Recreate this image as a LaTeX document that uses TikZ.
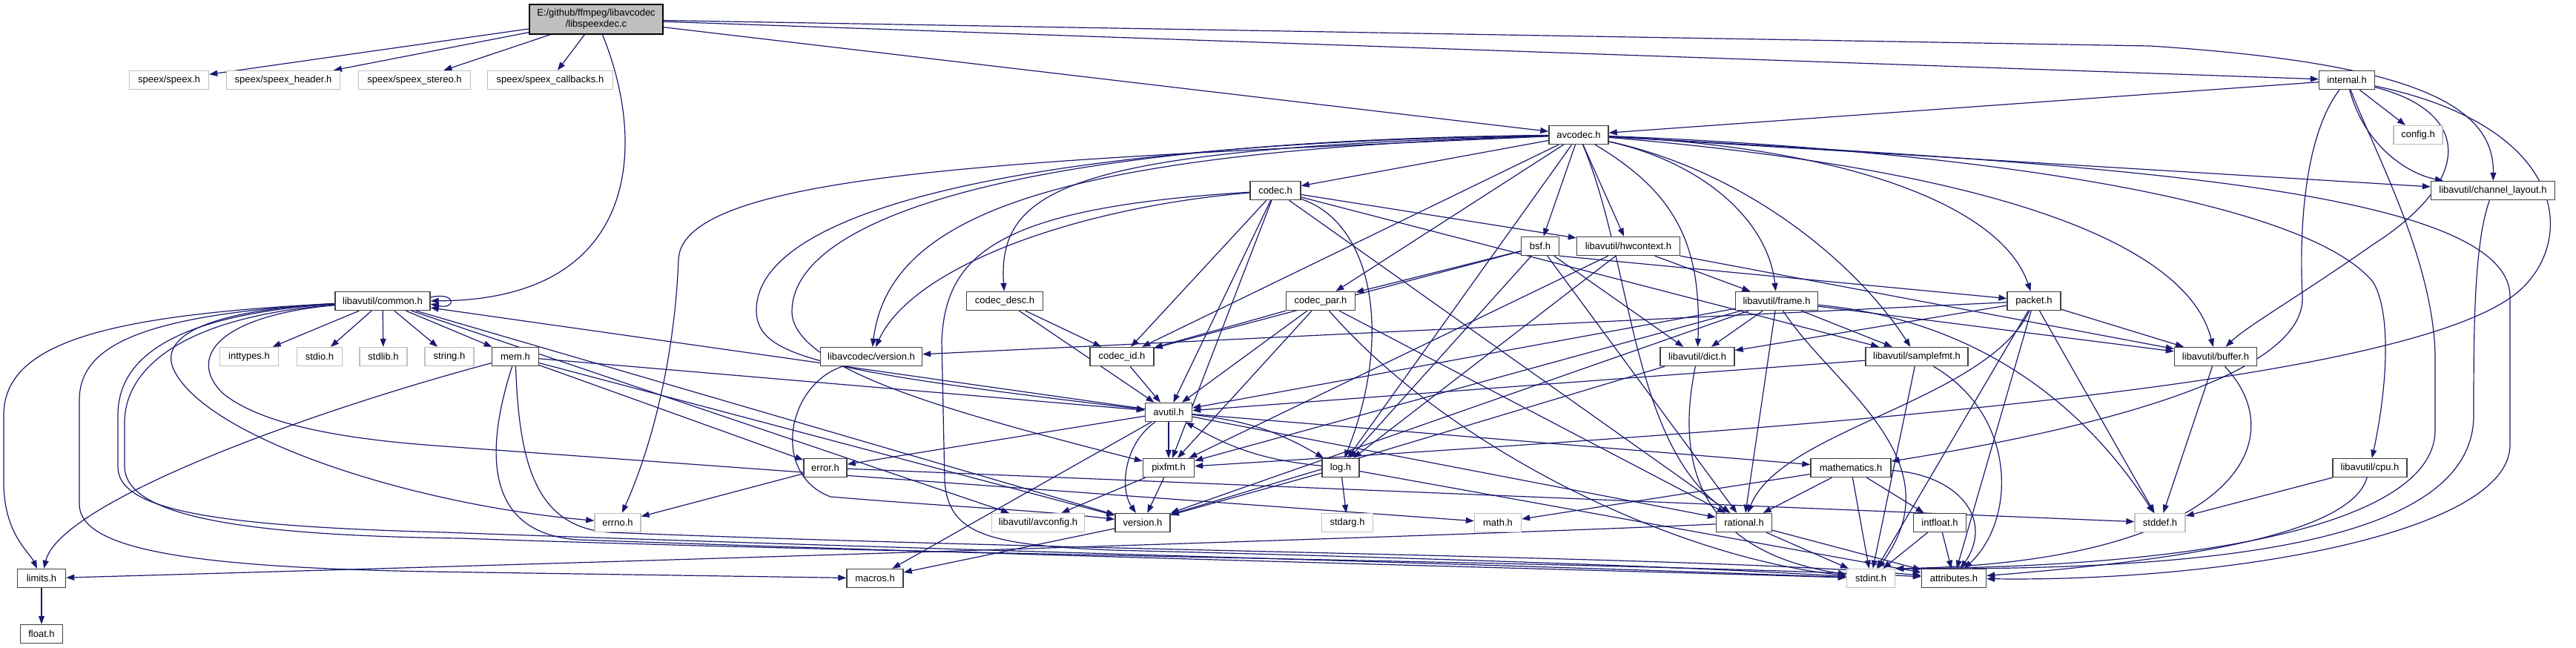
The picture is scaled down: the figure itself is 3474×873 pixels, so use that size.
\documentclass[tikz,border=0pt]{standalone}
\usepackage{fontspec}
\setmainfont{Liberation Sans}
\usetikzlibrary{arrows.meta}
\pgfdeclarelayer{bg}
\pgfdeclarelayer{edges}
\pgfsetlayers{bg,edges,main}
\definecolor{edgec}{HTML}{191970}
\definecolor{nodeb}{HTML}{404040}
\definecolor{extb}{HTML}{BFBFBF}
\definecolor{mainf}{HTML}{BFBFBF}
\tikzset{
  box/.style={draw=nodeb, fill=white, line width=1.4pt, minimum height=25pt, inner sep=1pt,
    font=\fontsize{13pt}{15pt}\selectfont},
  ext/.style={box, draw=extb},
  e/.style={draw=edgec, line width=1.2pt, -{Triangle[length=11pt,width=8pt]}}
}
\begin{document}
\begin{tikzpicture}[x=1pt,y=-1pt]
\begin{pgfonlayer}{bg}
\fill[white] (0,0) rectangle (3474,873);
\end{pgfonlayer}
\useasboundingbox (0,0) rectangle (3474,873);
% ---------- nodes ----------
\node[box, fill=mainf, draw=black, minimum width=180pt, minimum height=40pt, align=center] (m) at (804,26) {E:/github/ffmpeg/libavcodec\\/libspeexdec.c};
\node[ext, minimum width=107pt] (spx) at (228,108) {speex/speex.h};
\node[ext, minimum width=153pt] (spxh) at (382,108) {speex/speex\_header.h};
\node[ext, minimum width=151pt] (spxs) at (559,108) {speex/speex\_stereo.h};
\node[ext, minimum width=169pt] (spxc) at (742,108) {speex/speex\_callbacks.h};
\node[box, minimum width=75pt] (inl) at (3165,108) {internal.h};
\node[box, minimum width=80pt] (avc) at (2129,182) {avcodec.h};
\node[ext, minimum width=66pt] (cfg) at (3261,182) {config.h};
\node[box, minimum width=68pt] (cdc) at (1720,257) {codec.h};
\node[box, minimum width=167pt] (chl) at (3362,257) {libavutil/channel\_layout.h};
\node[box, minimum width=51pt] (bsf) at (2077,332) {bsf.h};
\node[box, minimum width=139pt] (hw) at (2196,332) {libavutil/hwcontext.h};
\node[box, minimum width=128pt] (cm) at (516,406) {libavutil/common.h};
\node[box, minimum width=103pt] (cds) at (1355,406) {codec\_desc.h};
\node[box, minimum width=93pt] (cp) at (1781,406) {codec\_par.h};
\node[box, minimum width=111pt] (fr) at (2396,406) {libavutil/frame.h};
\node[box, minimum width=72pt] (pk) at (2743,406) {packet.h};
\node[ext, minimum width=79pt] (inty) at (336,481) {inttypes.h};
\node[ext, minimum width=61pt] (stdio) at (431,481) {stdio.h};
\node[ext, minimum width=64pt] (stdlib) at (517,481) {stdlib.h};
\node[ext, minimum width=66pt] (str) at (606,481) {string.h};
\node[box, minimum width=63pt] (mem) at (695,481) {mem.h};
\node[box, minimum width=137pt] (lv) at (1175,481) {libavcodec/version.h};
\node[box, minimum width=86pt] (ci) at (1513,481) {codec\_id.h};
\node[box, minimum width=100pt] (dict) at (2289,481) {libavutil/dict.h};
\node[box, minimum width=138pt] (sf) at (2585,481) {libavutil/samplefmt.h};
\node[box, minimum width=111pt] (bf) at (2988,481) {libavutil/buffer.h};
\node[box, minimum width=63pt] (au) at (1576,556) {avutil.h};
\node[box, minimum width=69pt] (px) at (1576,631) {pixfmt.h};
\node[box, minimum width=50pt] (log) at (1808,631) {log.h};
\node[box, minimum width=58pt] (err) at (1113,631) {error.h};
\node[box, minimum width=108pt] (mt) at (2496,631) {mathematics.h};
\node[box, minimum width=100pt] (cpu) at (3196,631) {libavutil/cpu.h};
\node[ext, minimum width=62pt] (errno) at (833,705) {errno.h};
\node[ext, minimum width=125pt] (acfg) at (1400,705) {libavutil/avconfig.h};
\node[box, minimum width=74pt] (ver) at (1541,705) {version.h};
\node[ext, minimum width=69pt] (stdarg) at (1817,705) {stdarg.h};
\node[ext, minimum width=63pt] (math) at (2020,705) {math.h};
\node[box, minimum width=75pt] (ra) at (2352,705) {rational.h};
\node[box, minimum width=71pt] (if) at (2616,705) {intfloat.h};
\node[ext, minimum width=68pt] (sdef) at (2913,705) {stddef.h};
\node[box, minimum width=65pt] (lim) at (56,780) {limits.h};
\node[box, minimum width=76pt] (mac) at (1180,780) {macros.h};
\node[ext, minimum width=65pt] (si) at (2523,780) {stdint.h};
\node[box, minimum width=87pt] (attr) at (2635,780) {attributes.h};
\node[box, minimum width=57pt] (flt) at (56,855) {float.h};
\begin{pgfonlayer}{edges}
% ---------- edges: main ----------
\draw[e] (m) -- (spx);
\draw[e] (m) -- (spxh);
\draw[e] (m) -- (spxs);
\draw[e] (m) -- (spxc);
\draw[e] (m) .. controls (875,200) and (860,405) .. (cm);
\draw[e] (m) -- (avc);
\draw[e] (m) -- (inl);
\draw[e] (m) -- (2900,62) .. controls (3250,85) and (3364,140) .. (chl);
% ---------- common.h ----------
\draw[e] ([yshift=5pt]cm.east) .. controls +(35,-8) and +(35,8) .. ([yshift=-4pt]cm.east);
\draw[e] (cm) -- (inty);
\draw[e] (cm) -- (stdio);
\draw[e] (cm) -- (stdlib);
\draw[e] (cm) -- (str);
\draw[e] (cm) -- (mem);
\draw[e] (cm) .. controls (150,425) and (5,460) .. (5,560) -- (5,650) .. controls (5,720) and (40,745) .. (lim);
\draw[e] (cm) .. controls (260,420) and (215,460) .. (235,500) .. controls (280,590) and (550,680) .. (errno);
\draw[e] (cm) .. controls (300,425) and (250,480) .. (300,530) .. controls (360,580) and (500,595) .. (600,602) -- (math);
\draw[e] (cm) .. controls (180,425) and (107,470) .. (107,540) -- (107,680) .. controls (107,740) and (250,765) .. (580,771) -- (mac);
\draw[e] (cm) .. controls (220,425) and (159,490) .. (159,560) -- (159,630) .. controls (159,690) and (300,710) .. (600,718) .. controls (1200,740) and (2000,760) .. (si);
\draw[e] (cm) .. controls (240,428) and (168,500) .. (168,570) -- (168,630) .. controls (170,695) and (320,722) .. (620,726) .. controls (1300,750) and (2200,758) .. (attr);
\draw[e] (cm) -- (ver);
\draw[e] (cm) -- (acfg);
% ---------- avcodec.h ----------
\draw[e] (avc) .. controls (1400,215) and (920,230) .. (915,350) .. controls (910,480) and (880,600) .. (errno);
\draw[e] (avc) .. controls (2350,230) and (2500,350) .. (sf);
\draw[e] (avc) .. controls (2800,220) and (3385,250) .. (3385,400) -- (3385,600) .. controls (3385,720) and (3000,785) .. (attr);
\draw[e] (avc) .. controls (1300,195) and (1018,300) .. (1020,420) .. controls (1022,480) and (1100,500) .. (au);
\draw[e] (avc) .. controls (2700,230) and (2950,330) .. (bf);
\draw[e] (avc) .. controls (2600,200) and (3100,260) .. (3200,380) .. controls (3225,420) and (3220,520) .. (cpu);
\draw[e] (avc) -- (chl);
\draw[e] (avc) .. controls (2260,260) and (2295,330) .. (dict);
\draw[e] (avc) .. controls (2300,220) and (2385,300) .. (fr);
\draw[e] (avc) -- (hw);
\draw[e] (avc) -- (log);
\draw[e] (avc) .. controls (1350,190) and (1068,300) .. (1068,420) .. controls (1068,500) and (1300,560) .. (px);
\draw[e] (avc) .. controls (2200,350) and (2200,600) .. (ra);
\draw[e] (avc) -- (bsf);
\draw[e] (avc) -- (cdc);
\draw[e] (avc) .. controls (1450,200) and (1345,250) .. (cds);
\draw[e] (avc) -- (cp);
\draw[e] (avc) -- (ci);
\draw[e] (avc) .. controls (2500,200) and (2700,280) .. (pk);
\draw[e] (avc) .. controls (1450,205) and (1200,280) .. (lv);
% ---------- internal.h ----------
\draw[e] (inl) .. controls (3200,200) and (3282,350) .. (3284,480) -- (3284,580) .. controls (3284,700) and (3000,765) .. (si.north east);
\draw[e] (inl) .. controls (3330,150) and (3340,240) .. (3200,330) .. controls (3100,400) and (3030,440) .. (bf);
\draw[e] (inl) .. controls (3190,200) and (3250,235) .. (chl);
\draw[e] (inl) .. controls (3110,180) and (3100,300) .. (3105,400) .. controls (3110,520) and (2750,590) .. (mt);
\draw[e] (inl) .. controls (3460,170) and (3475,320) .. (3400,390) .. controls (3250,530) and (2300,585) .. (px);
\draw[e] (inl) -- (avc);
\draw[e] (inl) -- (cfg);
% ---------- codec.h ----------
\draw[e] (cdc) .. controls (1350,280) and (1275,340) .. (1270,460) -- (1274,650) .. controls (1280,720) and (1330,735) .. (1500,742) .. controls (1900,752) and (2300,765) .. (si);
\draw[e] (cdc) -- (au);
\draw[e] (cdc) -- (hw);
\draw[e] (cdc) .. controls (1850,300) and (1880,450) .. (log);
\draw[e] (cdc) -- (px);
\draw[e] (cdc) -- (ra);
\draw[e] (cdc) -- (sf);
\draw[e] (cdc) -- (ci);
\draw[e] (cdc) .. controls (1450,280) and (1230,360) .. (lv);
% ---------- codec_desc.h, codec_par.h, bsf.h ----------
\draw[e] (cds) -- (au);
\draw[e] (cds) -- (ci);
\draw[e] (cp) .. controls (1950,600) and (2250,750) .. (si);
\draw[e] (cp) -- (au);
\draw[e] (cp) -- (ra);
\draw[e] (cp) -- (px);
\draw[e] (cp) -- (ci);
\draw[e] (bsf) -- (dict);
\draw[e] (bsf) -- (log);
\draw[e] (bsf) -- (ra);
\draw[e] (bsf) -- (ci);
\draw[e] (bsf) -- (cp);
\draw[e] (bsf.south east) -- (pk);
% ---------- hwcontext.h ----------
\draw[e] (hw) -- (bf);
\draw[e] (hw) -- (fr);
\draw[e] (hw) -- (log);
\draw[e] (hw) -- (px);
% ---------- frame.h ----------
\draw[e] (fr) .. controls (2470,520) and (2640,620) .. (si);
\draw[e] (fr) .. controls (2650,430) and (2800,530) .. (sdef);
\draw[e] (fr) -- (au);
\draw[e] (fr) -- (bf);
\draw[e] (fr) -- (dict);
\draw[e] (fr) -- (ra);
\draw[e] (fr) -- (sf);
\draw[e] (fr) -- (px);
\draw[e] (fr) -- (ver);
% ---------- packet.h ----------
\draw[e] (pk) -- (sdef);
\draw[e] (pk) -- (si);
\draw[e] (pk) -- (attr);
\draw[e] (pk) -- (bf);
\draw[e] (pk) -- (dict);
\draw[e] (pk) .. controls (2680,540) and (2400,580) .. (ra);
\draw[e] (pk) -- (lv);
% ---------- misc ----------
\draw[e] (lv) .. controls (1060,520) and (1040,640) .. (1120,670) .. controls (1300,685) and (1400,688) .. (ver);
\draw[e] (ci) -- (au);
\draw[e] (mem) .. controls (400,560) and (80,680) .. (lim);
\draw[e] (mem) .. controls (650,620) and (660,720) .. (780,728) .. controls (1400,750) and (2200,770) .. (si);
\draw[e] (mem) .. controls (700,620) and (720,710) .. (820,718) .. controls (1500,745) and (2300,750) .. (attr);
\draw[e] (mem) -- (err);
\draw[e] (mem) -- (au);
\draw[e] (mem) -- (ver);
\draw[e] (dict) .. controls (2265,600) and (2270,740) .. (si);
\draw[e] (dict) -- (ver);
\draw[e] (sf) -- (si);
\draw[e] (sf) -- (au);
\draw[e] (sf) .. controls (2720,560) and (2720,700) .. (attr);
\draw[e] (bf) .. controls (3100,600) and (3000,760) .. (si.north east);
\draw[e] (bf) -- (sdef);
\draw[e] (au) -- (cm);
\draw[e] (au) -- (err);
\draw[e] (au) -- (ra);
\draw[e] (au) .. controls (1515,600) and (1510,660) .. (ver);
\draw[e] (au) -- (mac);
\draw[e] (au) -- (mt);
\draw[e] (au) to[bend left=12] (log);
\draw[e] (au) -- (px);
\draw[e] (log) -- (stdarg);
\draw[e] (log) to[bend left=12] (au);
\draw[e] (log) -- (attr);
\draw[e] (log) -- (ver);
\draw[e] (err) -- (errno);
\draw[e] (err) -- (sdef);
\draw[e] (mt) -- (si);
\draw[e] (mt) -- (math);
\draw[e] (mt) .. controls (2640,640) and (2690,700) .. (attr);
\draw[e] (mt) -- (ra);
\draw[e] (mt) -- (if);
\draw[e] (cpu) -- (sdef);
\draw[e] (cpu) .. controls (3170,720) and (2950,755) .. (attr);
\draw[e] (chl) .. controls (3336,330) and (3336,450) .. (3336,560) .. controls (3336,730) and (3000,770) .. (si.north east);
\draw[e] (px) -- (acfg);
\draw[e] (px) -- (ver);
\draw[e] (ver) -- (mac);
\draw[e] (ra) -- (si);
\draw[e] (ra) .. controls (2000,722) and (700,762) .. (lim);
\draw[e] (ra) -- (attr);
\draw[e] (if) -- (si);
\draw[e] (if) -- (attr);
\draw[e] (lim) -- (flt);
\end{pgfonlayer}
\end{tikzpicture}
\end{document}
